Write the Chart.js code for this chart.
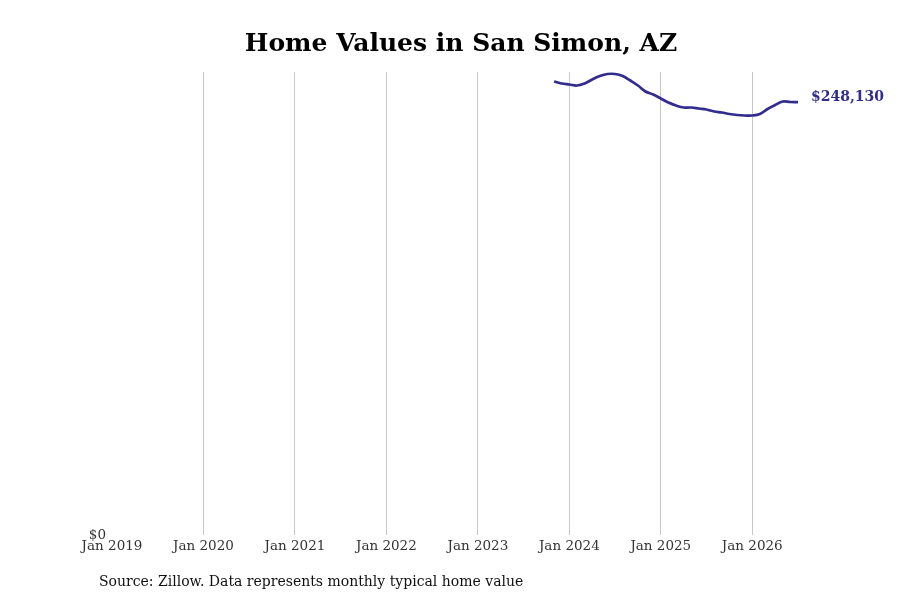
<!DOCTYPE html>
<html>
<head>
<meta charset="utf-8">
<script src="https://cdn.jsdelivr.net/npm/chart.js@4"></script>
<style>
  html, body { margin: 0; padding: 0; background: #fff; }
  #wrap { width: 900px; height: 600px; }
</style>
</head>
<body>
<div id="wrap"><canvas id="homeChart" width="900" height="600"></canvas></div>
<script>
// months counted from Jan 2019 (0 = Jan 2019)
const months = [58, 59, 60, 61, 62, 63, 64, 65, 66, 67, 68, 69, 70, 71, 72, 73, 74,
  75, 76, 77, 78, 79, 80, 81, 82, 83, 84, 85, 86, 87, 88, 89, 90];
const homeValues = [259950, 258800, 258230, 257650, 258800, 261090, 263100, 264250,
  264250, 263100, 260520, 257650, 254210, 252490, 250200, 247910, 246190, 245040,
  245040, 244470, 243900, 242750, 242180, 241320, 240740, 240460, 240460, 241320,
  244180, 246480, 248490, 248200, 248130];
const tickMonths = [0, 12, 24, 36, 48, 60, 72, 84];
const tickLabels = ['Jan 2019', 'Jan 2020', 'Jan 2021', 'Jan 2022', 'Jan 2023',
  'Jan 2024', 'Jan 2025', 'Jan 2026'];

const lineColor = '#312c8e';
const serif = 'DejaVu Serif';

const fmt = v => '$' + v.toLocaleString('en-US');

// title, source note and end label
const extras = {
  id: 'extras',
  afterDraw(chart) {
    const c = chart.ctx;
    c.save();
    c.fillStyle = '#000';
    c.font = 'bold 25px "' + serif + '"';
    c.textAlign = 'center';
    c.textBaseline = 'middle';
    c.fillText('Home Values in San Simon, AZ', 461, 44);

    c.font = '14px "' + serif + '"';
    c.textAlign = 'left';
    c.fillStyle = '#111';
    c.fillText('Source: Zillow. Data represents monthly typical home value', 99, 582);

    const meta = chart.getDatasetMeta(0);
    const last = meta.data[meta.data.length - 1];
    c.font = 'bold 14px "' + serif + '"';
    c.fillStyle = lineColor;
    c.fillText(fmt(homeValues[homeValues.length - 1]), last.x + 13, last.y - 5);
    c.restore();
  }
};

new Chart(document.getElementById('homeChart'), {
  type: 'line',
  data: {
    datasets: [{
      label: 'Typical home value',
      data: months.map((m, i) => ({ x: m, y: homeValues[i] })),
      borderColor: lineColor,
      borderWidth: 2.7,
      pointRadius: 0,
      tension: 0.4,
      fill: false
    }]
  },
  options: {
    responsive: false,
    animation: false,
    layout: { padding: { top: 72, right: 102, left: 0, bottom: 0 } },
    plugins: {
      legend: { display: false },
      tooltip: { enabled: false }
    },
    scales: {
      x: {
        type: 'linear',
        min: 0,
        max: 90,
        afterBuildTicks: scale => { scale.ticks = tickMonths.map(v => ({ value: v })); },
        afterFit: scale => { scale.height = 65; },
        ticks: {
          callback: v => tickLabels[tickMonths.indexOf(v)],
          font: { family: serif, size: 13.5 },
          color: '#333',
          padding: 3,
          maxRotation: 0,
          autoSkip: false
        },
        grid: {
          color: ctx => (ctx.tick && ctx.tick.value === 0) ? 'rgba(0,0,0,0)' : '#c8c8c8',
          drawTicks: false
        },
        border: { display: false }
      },
      y: {
        min: 0,
        max: 265400,
        afterBuildTicks: scale => { scale.ticks = [{ value: 0 }]; },
        afterFit: scale => { scale.width = 112; },
        ticks: {
          callback: v => v === 0 ? '$0' : '',
          font: { family: serif, size: 13.5 },
          color: '#333',
          padding: -2
        },
        grid: { display: false },
        border: { display: false }
      }
    }
  },
  plugins: [extras]
});
</script>
</body>
</html>
